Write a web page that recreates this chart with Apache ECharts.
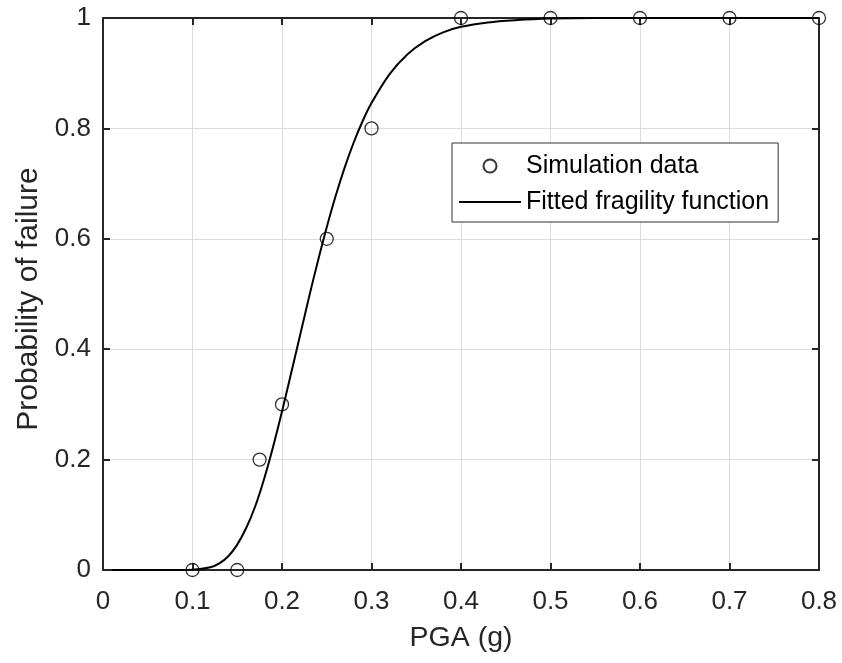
<!DOCTYPE html>
<html>
<head>
<meta charset="utf-8">
<script src="https://cdn.jsdelivr.net/npm/echarts@6/dist/echarts.min.js"></script>
<style>
html,body{margin:0;padding:0;background:#fff;}
#chart{width:842px;height:663px;}
</style>
</head>
<body>
<div id="chart"></div>
<script>
// Simulation data (PGA in g, probability of failure)
var simX = [0.1, 0.15, 0.175, 0.2, 0.25, 0.3, 0.4, 0.5, 0.6, 0.7, 0.8];
var simY = [0, 0, 0.2, 0.3, 0.6, 0.8, 1, 1, 1, 1, 1];

// Fitted fragility curve
var fitX = [0.01, 0.05, 0.08, 0.1, 0.12, 0.13, 0.14, 0.15, 0.16, 0.17, 0.18, 0.19, 0.2, 0.21, 0.22, 0.23, 0.24, 0.25, 0.26, 0.27, 0.28, 0.29, 0.3, 0.32, 0.34, 0.36, 0.38, 0.4, 0.43, 0.46, 0.5, 0.55, 0.6, 0.7, 0.8];
var fitY = [0, 0, 0, 0.0005, 0.005, 0.012, 0.025, 0.046, 0.076, 0.115, 0.165, 0.223, 0.287, 0.355, 0.424, 0.493, 0.559, 0.621, 0.678, 0.729, 0.774, 0.813, 0.846, 0.898, 0.934, 0.958, 0.974, 0.984, 0.992, 0.996, 0.999, 1, 1, 1, 1];

var xTicks = [0, 0.1, 0.2, 0.3, 0.4, 0.5, 0.6, 0.7, 0.8];
var yTicks = [0, 0.2, 0.4, 0.6, 0.8, 1];

var seriesNames = ['Simulation data', 'Fitted fragility function'];
var xTitle = 'PGA (g)';
var yTitle = 'Probability of failure';

function pairs(xs, ys) { return xs.map(function (x, i) { return [x, ys[i]]; }); }

var FONT = '"Liberation Sans", Arial, sans-serif';
var AX = '#262626';
var GRID = '#dcdcdc';

var chart = echarts.init(document.getElementById('chart'), null, {renderer: 'canvas'});

function mkX(pos, show) {
  return {
    type: 'value', position: pos, min: xTicks[0], max: xTicks[xTicks.length - 1], interval: 0.1,
    name: show ? xTitle : '', nameLocation: 'middle', nameGap: 54,
    nameTextStyle: {fontFamily: FONT, fontSize: 28.5, color: AX},
    axisLine: {show: true, onZero: false, lineStyle: {color: AX, width: 2}},
    axisTick: {show: true, inside: true, length: 7, lineStyle: {color: AX, width: 2}},
    axisLabel: {show: show, fontFamily: FONT, fontSize: 26, color: AX, margin: 19,
      formatter: function (v) { return String(+v.toFixed(2)); }},
    splitLine: {show: show, lineStyle: {color: GRID, width: 1}}
  };
}
function mkY(pos, show) {
  return {
    type: 'value', position: pos, min: yTicks[0], max: yTicks[yTicks.length - 1], interval: 0.2,
    name: show ? yTitle : '', nameLocation: 'middle', nameGap: 58,
    nameTextStyle: {fontFamily: FONT, fontSize: 30, color: AX, padding: [0, 10, 0, 0]},
    axisLine: {show: true, onZero: false, lineStyle: {color: AX, width: 2}},
    axisTick: {show: true, inside: true, length: 7, lineStyle: {color: AX, width: 2}},
    axisLabel: {show: show, fontFamily: FONT, fontSize: 26, color: AX, margin: 12,
      formatter: function (v) { return String(+v.toFixed(2)); }},
    splitLine: {show: show, lineStyle: {color: GRID, width: 1}}
  };
}

chart.setOption({
  animation: false,
  backgroundColor: '#fff',
  grid: {left: 103, right: 23, top: 18, bottom: 93, containLabel: false},
  xAxis: [mkX('bottom', true), mkX('top', false)],
  yAxis: [mkY('left', true), mkY('right', false)],
  legend: {
    show: true,
    orient: 'vertical', left: 452, top: 143,
    padding: [9, 9, 6, 6], itemGap: 8, itemTextGap: 16,
    backgroundColor: '#fff', borderColor: '#333', borderWidth: 1,
    itemWidth: 62, itemHeight: 13,
    textStyle: {fontFamily: FONT, fontSize: 25, color: '#000', lineHeight: 28},
    data: [seriesNames[0], {name: seriesNames[1], itemStyle: {opacity: 0}}]
  },
  series: [
    {
      name: seriesNames[0], type: 'scatter', xAxisIndex: 0, yAxisIndex: 0,
      data: pairs(simX, simY), symbol: 'circle', symbolSize: 13,
      itemStyle: {color: 'rgba(255,255,255,0)', borderColor: '#000', borderWidth: 1.3}, z: 4, clip: false
    },
    {
      name: seriesNames[1], type: 'line', xAxisIndex: 0, yAxisIndex: 0,
      data: pairs(fitX, fitY), smooth: 0.3, showSymbol: false, symbol: 'none',
      lineStyle: {color: '#000', width: 2}, itemStyle: {color: '#000'}, z: 3, clip: false
    }
  ]
});
</script>
</body>
</html>
